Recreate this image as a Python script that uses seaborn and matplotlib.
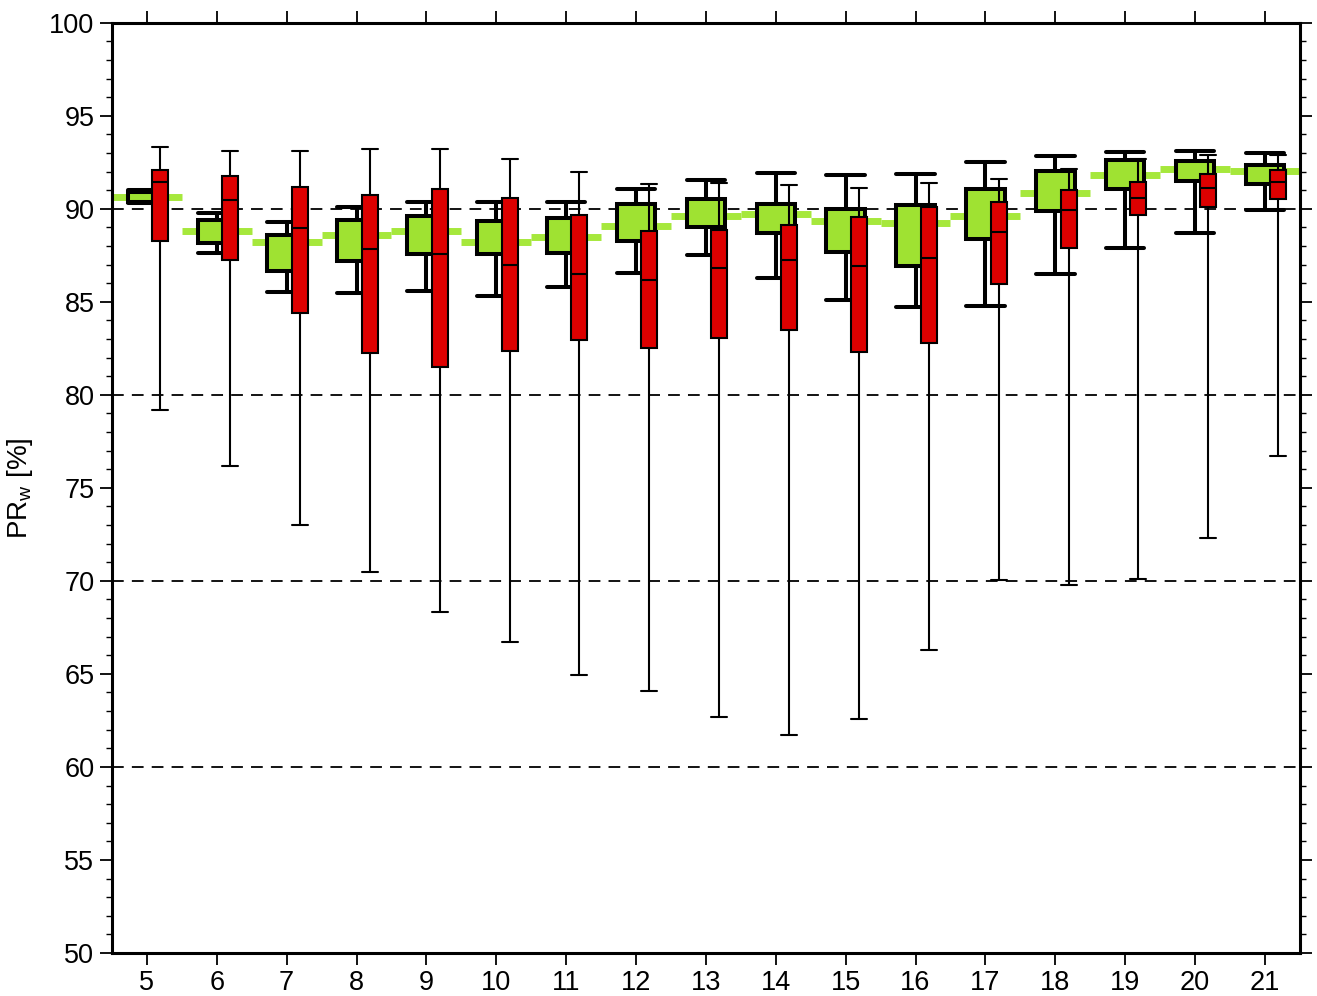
import numpy as np
import pandas as pd
import seaborn as sns
import matplotlib.pyplot as plt
from matplotlib.ticker import MultipleLocator

# ----------------------------
# values (hours 5..21)
# ----------------------------
hours = list(range(5, 22))

green_lo = [90.30, 87.62, 85.52, 85.47, 85.59, 85.32, 85.82, 86.54, 87.53, 86.27, 85.11, 84.71, 84.75, 86.49, 87.89, 88.71, 89.91]
green_q1 = [90.35, 88.17, 86.63, 87.17, 87.56, 87.56, 87.62, 88.28, 89.01, 88.69, 87.67, 86.95, 88.37, 89.88, 91.05, 91.47, 91.35]
green_med = [90.64, 88.78, 88.19, 88.60, 88.78, 88.19, 88.46, 89.05, 89.59, 89.73, 89.32, 89.23, 89.62, 90.84, 91.82, 92.14, 92.01]
green_q3 = [90.92, 89.41, 88.60, 89.41, 89.59, 89.32, 89.50, 90.25, 90.54, 90.25, 90.00, 90.18, 91.06, 92.01, 92.63, 92.55, 92.35]
green_hi = [91.02, 89.77, 89.27, 90.09, 90.39, 90.39, 90.39, 91.06, 91.56, 91.92, 91.83, 91.88, 92.49, 92.86, 93.03, 93.12, 93.00]

red_lo = [79.20, 76.20, 73.00, 70.50, 68.30, 66.70, 64.95, 64.10, 62.70, 61.70, 62.60, 66.30, 70.05, 69.80, 70.10, 72.30, 76.70]
red_q1 = [88.28, 87.22, 84.39, 82.24, 81.52, 82.37, 82.92, 82.53, 83.05, 83.49, 82.31, 82.81, 85.95, 87.89, 89.66, 90.12, 90.50]
red_med = [91.45, 90.48, 88.98, 87.83, 87.58, 86.99, 86.51, 86.18, 86.81, 87.26, 86.90, 87.35, 88.73, 89.91, 90.57, 91.09, 91.45]
red_q3 = [92.06, 91.77, 91.15, 90.74, 91.08, 90.57, 89.66, 88.82, 88.87, 89.14, 89.54, 90.07, 90.38, 91.02, 91.43, 91.86, 92.08]
red_hi = [93.30, 93.10, 93.10, 93.20, 93.20, 92.70, 92.00, 91.35, 91.40, 91.30, 91.10, 91.40, 91.60, 92.15, 92.70, 92.88, 92.87]

GREEN = "#9fe232"
GREEN_LINE = "#a6e83c"
RED = "#dd0000"
RED_SHIFT = 0.19


def five_point_frame(x, lo, q1, med, q3, hi):
    # 5 values per box -> percentiles 0/25/50/75/100 land exactly on them
    rows = []
    for h, a, b, c, d, e in zip(x, lo, q1, med, q3, hi):
        for v in (a, b, c, d, e):
            rows.append({"hour": h, "value": v})
    return pd.DataFrame(rows)


green_df = five_point_frame(hours, green_lo, green_q1, green_med, green_q3, green_hi)
red_df = five_point_frame([h + RED_SHIFT for h in hours], red_lo, red_q1, red_med, red_q3, red_hi)

sns.set_style("ticks")
plt.rcParams["font.family"] = ["Liberation Sans", "DejaVu Sans"]
plt.rcParams["mathtext.default"] = "regular"
for key in ["text.color", "axes.labelcolor", "xtick.color", "ytick.color", "axes.edgecolor"]:
    plt.rcParams[key] = "black"

fig = plt.figure(figsize=(13.17, 9.96), dpi=100)
ax = fig.add_axes([0.085, 0.0432, 0.902, 0.934])

# dashed reference lines
for yv in [60, 70, 80, 90]:
    ax.axhline(yv, color="black", lw=1.3, ls=(0, (6.5, 4.5)), zorder=1)

# green median steps, one per hour
h_arr = np.array(hours)
ax.hlines(green_med, h_arr - 0.5, h_arr + 0.5, color=GREEN_LINE, lw=5, zorder=1.5)

sns.boxplot(data=green_df, x="hour", y="value", native_scale=True, width=0.55,
            whis=(0, 100), color=GREEN, saturation=1, linecolor="black",
            linewidth=2.9, showfliers=False, capwidths=0.55,
            medianprops={"linewidth": 0}, ax=ax)
sns.boxplot(data=red_df, x="hour", y="value", native_scale=True, width=0.23,
            whis=(0, 100), color=RED, saturation=1, linecolor="black",
            linewidth=1.5, showfliers=False, capwidths=0.23, ax=ax)

ax.set_xlim(4.5, 21.5)
ax.set_ylim(50, 100)
ax.set_xticks(hours)
ax.set_xticklabels([str(h) for h in hours])
ax.yaxis.set_major_locator(MultipleLocator(5))
ax.yaxis.set_minor_locator(MultipleLocator(1))
ax.xaxis.set_minor_locator(plt.NullLocator())

ax.tick_params(which="both", direction="out", top=True, right=True,
               labelsize=19.5, pad=4, colors="black")
ax.tick_params(which="major", length=8.6, width=1.3)
ax.tick_params(which="minor", length=4.3, width=1.0)
for sp in ax.spines.values():
    sp.set_linewidth(2.2)
    sp.set_color("black")
    sp.set_visible(True)

ax.set_xlabel("")
ax.set_ylabel("PR$_w$ [%]", fontsize=20, labelpad=10)

plt.savefig("out.png", dpi=100)
